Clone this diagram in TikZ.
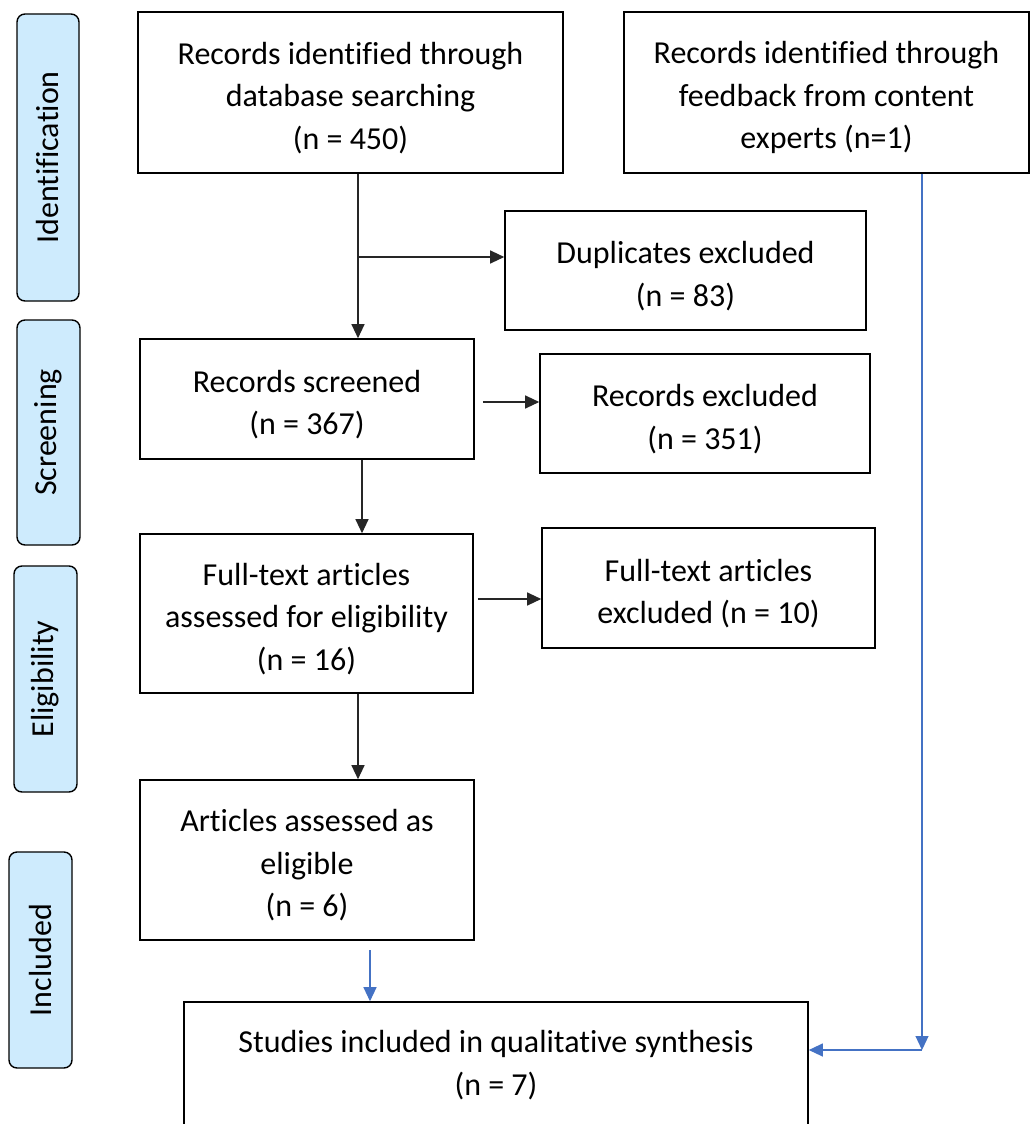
\documentclass[tikz,border=0pt]{standalone}
\usepackage{fontspec}
\setmainfont{Carlito}[Ligatures=CommonOff]
\usetikzlibrary{arrows.meta,calc}
\definecolor{phase}{RGB}{206,235,253}
\definecolor{flowblue}{RGB}{68,114,196}
\newcommand\toplift{\rule{0pt}{33pt}}
\tikzset{
  box/.style={draw=black, line width=1.6pt, align=center, inner sep=0pt,
    font=\fontsize{32}{42.5}\selectfont},
  phasebox/.style={draw=black, line width=1.4pt, fill=phase, rounded corners=8pt,
    rotate=90, inner sep=0pt, font=\fontsize{32}{36}\selectfont},
  arr/.style={draw=black!85, line width=1.2pt, -{Triangle[length=14pt,width=13pt]}},
  barr/.style={draw=flowblue, line width=1.2pt, -{Triangle[length=14pt,width=13pt]}},
}
\begin{document}
\begin{tikzpicture}[x=1pt,y=-1pt]
\useasboundingbox (0,0) rectangle (1030,1124);
\clip (0,0) rectangle (1030,1124);
% phase labels
\node[phasebox, minimum width=287pt, minimum height=62pt] (pid) at (48,157.5) {Identification};
\node[phasebox, minimum width=225pt, minimum height=63pt] (psc) at (48.5,432.5) {Screening};
\node[phasebox, minimum width=226pt, minimum height=63pt] (pel) at (45.5,679) {Eligibility};
\node[phasebox, minimum width=216pt, minimum height=63pt] (pin) at (40.5,960) {Included};
% boxes
\node[box, minimum width=425pt, minimum height=161pt] (A) at (350.5,92.5) {\toplift Records identified through\\database searching\\(n = 450)};
\node[box, minimum width=405pt, minimum height=161pt] (B) at (826.5,92.5) {\toplift Records identified through\\feedback from content\\experts (n=1)};
\node[box, minimum width=361pt, minimum height=119pt] (C) at (685.5,270.5) {\toplift Duplicates excluded\\(n = 83)};
\node[box, minimum width=334pt, minimum height=120pt] (D) at (307,399) {\toplift Records screened\\(n = 367)};
\node[box, minimum width=330pt, minimum height=119pt] (E) at (705,413.5) {\toplift Records excluded\\(n = 351)};
\node[box, minimum width=333pt, minimum height=159pt] (F) at (306.5,613.5) {\toplift Full-text articles\\assessed for eligibility\\(n = 16)};
\node[box, minimum width=333pt, minimum height=120pt] (G) at (708.5,588) {\toplift Full-text articles\\excluded (n = 10)};
\node[box, minimum width=334pt, minimum height=160pt] (H) at (307,860) {\toplift Articles assessed as\\eligible\\(n = 6)};
\node[box, minimum width=624pt, minimum height=170pt] (I) at (496,1087) {};
\node[box, draw=none, anchor=center] (It) at (496,1065) {Studies included in qualitative synthesis\\(n = 7)};
% connectors
\coordinate (xa) at (358,0);
\coordinate (br) at (358,257);
\draw[arr] (A.south -| xa) -- (D.north -| xa);
\draw[arr] (br) -- (br -| C.west);
\coordinate (yde) at (0,402);
\draw[arr] ($(D.east |- yde)+(8,0)$) -- (yde -| E.west);
\coordinate (xdf) at (362,0);
\draw[arr] (D.south -| xdf) -- (F.north -| xdf);
\coordinate (yfg) at (0,599);
\draw[arr] ($(F.east |- yfg)+(4,0)$) -- (yfg -| G.west);
\coordinate (xfh) at (358,0);
\draw[arr] (F.south -| xfh) -- (H.north -| xfh);
\coordinate (hI) at (370,950);
\draw[barr] (hI) -- (hI |- I.north);
\coordinate (jn) at (922,1050);
\draw[barr] (B.south -| jn) -- (jn);
\draw[barr] (jn) -- (jn -| I.east);
\end{tikzpicture}
\end{document}
